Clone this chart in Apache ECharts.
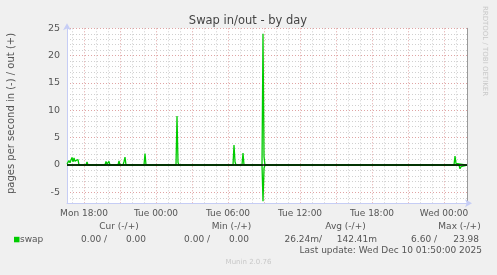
<!DOCTYPE html>
<html><head><meta charset="utf-8">
<script src="https://cdn.jsdelivr.net/npm/echarts@6/dist/echarts.min.js"></script>
<style>html,body{margin:0;padding:0;background:#f0f0f0}#c{width:497px;height:275px}</style>
</head><body><div id="c"></div>
<script>
// time in minutes relative to Tue 00:00
const xStart = -445, xEnd = 1555;
const outTimes = [-445,-440,-435,-430,-425,-420,-415,-410,-405,-400,-395,-390,-385,
  -350,-345,-340, -290,-285,-280, -255,-250,-245,-240,-235,-230, -190,-185,-180,
  -165,-160,-155,-150, -60,-55,-50, -5,0,5, 100,105,110,115, 300,305,310,
  385,390,395,400, 430,435,440, 530,535,540,545, 1490,1495,1500,1505, 1555];
const outValues = [0.2,0.3,0.8,0.4,0.6,1.4,0.6,1.3,0.7,1.0,1.0,1.0,0,
  0,0.55,0, 0,0.2,0, 0,0.65,0.2,0.3,0.65,0, 0,0.75,0,
  0,0.6,1.45,0, 0,2.1,0, 0,0.3,0, 0,8.95,0.45,0, 0,0.3,0,
  0,3.65,0.6,0, 0,2.2,0, 0,23.98,1.5,0, 0,1.65,0.3,0, 0];
const inTimes = [-445, 530,535,540,545, 980,985,990, 1235,1240,1245, 1460,1465,1470, 1515,1520,1525,1530, 1555];
const inValues = [0, 0,-6.6,-0.6,0, 0,-0.3,0, 0,-0.3,0, 0,-0.3,0, 0,-0.7,-0.3,0, 0];

const xLabelTicks = [-360,0,360,720,1080,1440];
const xLabelTexts = ['Mon 18:00','Tue 00:00','Tue 06:00','Tue 12:00','Tue 18:00','Wed 00:00'];
const xMajorGrid = [-360,-180,0,180,360,540,720,900,1080,1260,1440];
const xMinorGrid = [-420,-300,-240,-120,-60,60,120,240,300,420,480,600,660,780,840,960,1020,1140,1200,1320,1380,1500];
const yLabelTicks = [-5,0,5,10,15,20,25];
const yMinorGrid = [-6,-4,-3,-2,-1,1,2,3,4,6,7,8,9,11,12,13,14,16,17,18,19,21,22,23,24];

const statHeaders = ['Cur (-/+)','Min (-/+)','Avg (-/+)','Max (-/+)'];
const statIn = ['0.00 /','0.00 /','26.24m/','6.60 /'];
const statOut = ['0.00','0.00','142.41m','23.98'];
const seriesName = 'swap';
const lastUpdate = 'Last update: Wed Dec 10 01:50:00 2025';

const FONT = 'DejaVu Sans';
const TXT = '#555';
const GREEN = '#00cc00';

const headerX = [119, 231.5, 345.5, 459.5];
const inX = [107, 210, 322, 437];
const outX = [146, 249, 377, 479];

const graphics = [
  {type:'text', x:248, y:21, style:{text:'Swap in/out - by day', font:'11.5px "'+FONT+'"', fill:'#444', align:'center', verticalAlign:'middle'}},
  {type:'text', x:11.5, y:113.5, rotation:Math.PI/2, style:{text:'pages per second in (-) / out (+)', font:'10px "'+FONT+'"', fill:TXT, align:'center', verticalAlign:'middle'}},
  {type:'text', x:485, y:51, rotation:-Math.PI/2, style:{text:'RRDTOOL / TOBI OETIKER', font:'7px "'+FONT+'"', fill:'#c8c8c8', align:'center', verticalAlign:'middle'}},
  {type:'rect', shape:{x:14, y:236.8, width:5.5, height:5.5}, style:{fill:GREEN}},
  {type:'text', x:20, y:239.5, style:{text:seriesName, font:'9px "'+FONT+'"', fill:TXT, align:'left', verticalAlign:'middle'}},
  {type:'text', x:482, y:251, style:{text:lastUpdate, font:'9px "'+FONT+'"', fill:TXT, align:'right', verticalAlign:'middle'}},
  {type:'text', x:248.5, y:262, style:{text:'Munin 2.0.76', font:'7px "'+FONT+'"', fill:'#c8c8c8', align:'center', verticalAlign:'middle'}}
];
statHeaders.forEach((h,i)=>{
  graphics.push({type:'text', x:headerX[i], y:227, style:{text:h, font:'9px "'+FONT+'"', fill:TXT, align:'center', verticalAlign:'middle'}});
  graphics.push({type:'text', x:inX[i], y:239.5, style:{text:statIn[i], font:'9px "'+FONT+'"', fill:TXT, align:'right', verticalAlign:'middle'}});
  graphics.push({type:'text', x:outX[i], y:239.5, style:{text:statOut[i], font:'9px "'+FONT+'"', fill:TXT, align:'right', verticalAlign:'middle'}});
});

const hidden = {show:false};
function gridAxisX(vals, color){
  return {type:'value', min:xStart, max:xEnd, gridIndex:0, position:'bottom',
    axisLine:{show:false, onZero:false}, axisLabel:{show:false},
    axisTick:{show:false, customValues:vals},
    splitLine:{show:true, lineStyle:{color:color, width:1, type:[1,2]}}};
}

const chart = echarts.init(document.getElementById('c'), null, {renderer:'canvas'});
chart.setOption({
  backgroundColor:'#f0f0f0',
  animation:false,
  textStyle:{fontFamily:FONT},
  grid:{left:67, top:28.3, width:400, height:175, backgroundColor:'#ffffff', show:true, borderWidth:0},
  xAxis:[
    {type:'value', min:xStart, max:xEnd, position:'bottom',
      axisLine:{show:true, onZero:false, symbol:['none','arrow'], symbolSize:[6,7], symbolOffset:[0,5], lineStyle:{color:'#c6cdf5', width:1}},
      axisTick:{show:false, customValues:xLabelTicks},
      axisLabel:{customValues:xLabelTicks, margin:6, fontSize:9, color:TXT, fontFamily:FONT,
        formatter:v=>xLabelTexts[xLabelTicks.indexOf(v)] || ''},
      splitLine:{show:false}},
    gridAxisX(xMinorGrid, '#d0d0d0'),
    gridAxisX(xMajorGrid, '#e0a4a4')
  ],
  yAxis:[
    {type:'value', min:-7, max:25, position:'left',
      axisLine:{show:true, onZero:false, symbol:['none','arrow'], symbolSize:[6,7], symbolOffset:[0,5], lineStyle:{color:'#c6cdf5', width:1}},
      axisTick:{show:false, customValues:yLabelTicks},
      axisLabel:{customValues:yLabelTicks, margin:7, fontSize:9.5, color:TXT, fontFamily:FONT},
      splitLine:{show:true, lineStyle:{color:'#e0a4a4', width:1, type:[1,2]}}},
    {type:'value', min:-7, max:25, position:'right',
      axisLine:{show:true, onZero:false, lineStyle:{color:'#999999', width:1}},
      axisTick:{show:false, customValues:yMinorGrid}, axisLabel:{show:false},
      splitLine:{show:true, lineStyle:{color:'#d0d0d0', width:1, type:[1,2]}}}
  ],
  graphic:graphics,
  series:[
    {name:seriesName, type:'line', xAxisIndex:0, yAxisIndex:0, showSymbol:false, symbol:'none',
      data:inTimes.map((t,i)=>[t,inValues[i]]), lineStyle:{color:GREEN, width:1.3}, itemStyle:{color:GREEN}, z:3},
    {name:seriesName, type:'line', xAxisIndex:0, yAxisIndex:0, showSymbol:false, symbol:'none',
      data:outTimes.map((t,i)=>[t,outValues[i]]), lineStyle:{color:GREEN, width:1.3}, itemStyle:{color:GREEN}, z:3,
      markLine:{silent:true, symbol:'none', label:{show:false}, lineStyle:{color:'#000', width:1.5, type:'solid'}, data:[{yAxis:0}]}}
  ]
});
</script></body></html>
